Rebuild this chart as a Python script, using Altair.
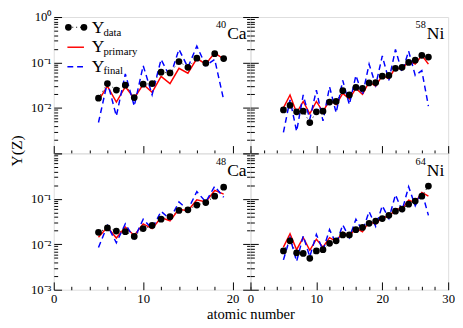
import altair as alt
import pandas as pd

# ---------------- data ----------------
Z_CA = list(range(5, 20))
Z_NI = list(range(5, 28))

CA40_DATA = [0.0164, 0.0344, 0.0247, 0.0316, 0.0169, 0.0332, 0.0344, 0.0611, 0.0590, 0.105,
             0.0782, 0.124, 0.0968, 0.156, 0.122]
CA40_PRIMARY = [0.0144, 0.0301, 0.0135, 0.0291, 0.0164, 0.0332, 0.0220, 0.0493, 0.0344, 0.0743,
                0.0581, 0.122, 0.0920, 0.164, 0.118]
CA40_FINAL = [0.00478, 0.0372, 0.00661, 0.0562, 0.0110, 0.0851, 0.0195, 0.117, 0.0479, 0.195,
              0.0782, 0.229, 0.0851, 0.117, 0.0151]

NI58_DATA = [0.00906, 0.0114, 0.00820, 0.00849, 0.00478, 0.00820, 0.00849, 0.0135, 0.0139, 0.0239,
             0.0193, 0.0282, 0.0269, 0.0355, 0.0361, 0.0501, 0.0518, 0.0743, 0.0782, 0.100,
             0.112, 0.144, 0.132]
NI58_PRIMARY = [0.0100, 0.0193, 0.00782, 0.0139, 0.00743, 0.0139, 0.00820, 0.0151, 0.0118, 0.0209,
                0.0158, 0.0269, 0.0200, 0.0372, 0.0301, 0.0518, 0.0440, 0.0782, 0.0697, 0.109,
                0.0920, 0.144, 0.0920]
NI58_FINAL = [0.00291, 0.0151, 0.00306, 0.0193, 0.00562, 0.0247, 0.00518, 0.0291, 0.00782, 0.0405,
              0.0118, 0.0518, 0.0193, 0.0920, 0.0316, 0.139, 0.0405, 0.193, 0.0611, 0.178,
              0.0518, 0.0662, 0.0109]

CA48_DATA = [0.0183, 0.0229, 0.0195, 0.0189, 0.0149, 0.0221, 0.0259, 0.0356, 0.0405, 0.0556,
             0.0574, 0.0728, 0.0826, 0.114, 0.180]
CA48_PRIMARY = [0.0142, 0.0239, 0.0137, 0.0239, 0.0156, 0.0281, 0.0221, 0.0385, 0.0329, 0.0592,
                0.0547, 0.0953, 0.0853, 0.153, 0.127]
CA48_FINAL = [0.00851, 0.0259, 0.0108, 0.0281, 0.0133, 0.0356, 0.0221, 0.0530, 0.0356, 0.0853,
              0.0574, 0.144, 0.0853, 0.189, 0.108]

NI64_DATA = [0.00713, 0.0119, 0.00647, 0.00627, 0.00492, 0.00713, 0.00760, 0.0105, 0.0119, 0.0160,
             0.0160, 0.0210, 0.0235, 0.0290, 0.0324, 0.0368, 0.0433, 0.0533, 0.0597, 0.0760,
             0.0893, 0.114, 0.191]
NI64_PRIMARY = [0.00865, 0.0170, 0.00760, 0.0140, 0.00736, 0.0129, 0.00865, 0.0140, 0.0116, 0.0185,
                0.0152, 0.0228, 0.0188, 0.0314, 0.0276, 0.0399, 0.0399, 0.0597, 0.0597, 0.0938,
                0.0824, 0.138, 0.114]
NI64_FINAL = [0.00454, 0.0140, 0.00419, 0.0152, 0.00533, 0.0165, 0.00736, 0.0210, 0.0102, 0.0267,
              0.0140, 0.0356, 0.0194, 0.0525, 0.0247, 0.0701, 0.0368, 0.123, 0.0551, 0.185,
              0.0701, 0.145, 0.0433]

LEGEND_SUBS = ["data", "primary", "final"]
Y_DOMAIN = [0.001, 1.0]
Y_TICKS = [m * 10.0 ** e for e in (-3, -2, -1) for m in range(1, 10)] + [1.0]
TOP_LABEL_TICKS = [1.0, 0.1, 0.01]
BOTTOM_LABEL_TICKS = [0.1, 0.01, 0.001]

FONT = "Liberation Serif"

Y_MAJOR = "abs(log(datum.value)/LN10 - round(log(datum.value)/LN10)) < 0.01"
Y_TICKSIZE = {"condition": {"test": Y_MAJOR, "value": 8}, "value": 4}
X_TICKSIZE = {"condition": {"test": "datum.value % 10 == 0", "value": 8}, "value": 3.5}
Y_LABEL_EXPR = ("datum.value >= 0.5 ? '10⁰' : datum.value >= 0.05 ? '10⁻¹' : "
                "datum.value >= 0.005 ? '10⁻²' : '10⁻³'")


def one_row():
    return pd.DataFrame({"k": [0]})


def panel(z, yd, yp, yf, width, height, xmax, x_major, sup, el, el_w,
          top_row, left_col, legend=False):
    df = pd.DataFrame({"Z": z, "data": yd, "primary": yp, "final": yf})
    xscale = alt.Scale(domain=[0, xmax], nice=False, zero=False)
    yscale = alt.Scale(type="log", domain=Y_DOMAIN, nice=False)

    # main (labelled) axes
    if top_row:
        x_main = None
    else:
        x_main = alt.Axis(values=x_major, ticks=False, domain=False, grid=False,
                          labelFont=FONT, labelFontSize=13, labelColor="black",
                          labelPadding=3, labelFlush=False, labelOverlap=False,
                          title="atomic number" if left_col else None,
                          titleFont=FONT, titleFontSize=15, titleFontWeight="normal",
                          titleColor="black", titleX=width, titleY=30,
                          titleBaseline="alphabetic", titleAlign="center")
    if left_col:
        y_main = alt.Axis(values=TOP_LABEL_TICKS if top_row else BOTTOM_LABEL_TICKS,
                          ticks=False, domain=False, grid=False,
                          labelExpr=Y_LABEL_EXPR, labelFont=FONT, labelFontSize=13,
                          labelColor="black", labelPadding=3, labelFlush=False,
                          labelOverlap=False,
                          title="Y(Z)" if top_row else None,
                          titleFont=FONT, titleFontSize=16, titleFontWeight="normal",
                          titleColor="black", titleX=-30, titleY=height - 3,
                          titleAngle=270, titleBaseline="bottom", titleAlign="center")
    else:
        y_main = None

    # inward tick axes
    x_in = alt.Axis(orient="top", offset=-height, values=list(range(0, xmax + 1, 2)),
                    labels=False, domain=False, grid=False, title=None,
                    tickColor="black", tickWidth=1, tickSize=X_TICKSIZE)
    y_in_left = alt.Axis(orient="right", offset=-width, values=Y_TICKS,
                         labels=False, domain=False, grid=False, title=None,
                         tickColor="black", tickWidth=1, tickSize=Y_TICKSIZE)
    y_in_right = None
    if left_col:
        y_in_right = alt.Axis(orient="left", offset=-width, values=Y_TICKS,
                              labels=False, domain=False, grid=False, title=None,
                              tickColor="black", tickWidth=1, tickSize=Y_TICKSIZE)

    base = alt.Chart(df)
    dotted = base.mark_line(color="black", strokeDash=[1, 3], strokeWidth=1).encode(
        x=alt.X("Z:Q", scale=xscale, axis=x_main),
        y=alt.Y("data:Q", scale=yscale, axis=y_main))
    red = base.mark_line(color="#ff0000", strokeWidth=1.5).encode(
        x=alt.X("Z:Q", scale=xscale, axis=x_in),
        y=alt.Y("primary:Q", scale=yscale, axis=y_in_left))
    blue = base.mark_line(color="#0000ff", strokeDash=[6, 4], strokeWidth=1.5).encode(
        x=alt.X("Z:Q", scale=xscale, axis=None),
        y=alt.Y("final:Q", scale=yscale, axis=y_in_right))
    dots = base.mark_circle(size=48, color="black", opacity=1).encode(
        x=alt.X("Z:Q", scale=xscale, axis=None),
        y=alt.Y("data:Q", scale=yscale, axis=None))

    layers = [dotted, red, blue, dots]

    # panel label (isotope)
    lab = pd.DataFrame({"sup": [sup], "el": [el]})
    layers.append(alt.Chart(lab).mark_text(align="right", baseline="alphabetic", font=FONT,
                                           fontSize=18, color="black").encode(
        x=alt.value(width - 4), y=alt.value(23), text="el:N"))
    layers.append(alt.Chart(lab).mark_text(align="right", baseline="alphabetic", font=FONT,
                                           fontSize=10.5, color="black").encode(
        x=alt.value(width - 5 - el_w), y=alt.value(11.5), text="sup:N"))

    if legend:
        layers.append(alt.Chart(one_row()).mark_rule(color="black", strokeDash=[1, 3],
                                                     strokeWidth=1).encode(
            x=alt.value(15), x2=alt.value(31), y=alt.value(10.5)))
        for xv in (15, 31):
            layers.append(alt.Chart(one_row()).mark_circle(size=48, color="black",
                                                           opacity=1).encode(
                x=alt.value(xv), y=alt.value(10.5)))
        layers.append(alt.Chart(one_row()).mark_rule(color="#ff0000", strokeWidth=1.5).encode(
            x=alt.value(14), x2=alt.value(31), y=alt.value(31)))
        layers.append(alt.Chart(one_row()).mark_rule(color="#0000ff", strokeWidth=1.5,
                                                     strokeDash=[6, 4]).encode(
            x=alt.value(14), x2=alt.value(33), y=alt.value(51)))
        for i, sub in enumerate(LEGEND_SUBS):
            layers.append(alt.Chart(one_row()).mark_text(
                text="Y", align="left", baseline="alphabetic", font=FONT, fontSize=18,
                color="black").encode(x=alt.value(39), y=alt.value(16 + 20 * i)))
            layers.append(alt.Chart(one_row()).mark_text(
                text=sub, align="left", baseline="alphabetic", font=FONT, fontSize=11,
                color="black").encode(x=alt.value(51), y=alt.value(19 + 20 * i)))

    return alt.layer(*layers).properties(width=width, height=height).resolve_axis(
        x="independent", y="independent")


WL, WR = 202, 203
HT, HB = 140, 140

tl = panel(Z_CA, CA40_DATA, CA40_PRIMARY, CA40_FINAL, WL, HT, 22, [0, 10, 20],
           "40", "Ca", 20, True, True, legend=True)
tr = panel(Z_NI, NI58_DATA, NI58_PRIMARY, NI58_FINAL, WR, HT, 30, [0, 10, 20, 30],
           "58", "Ni", 18, True, False)
bl = panel(Z_CA, CA48_DATA, CA48_PRIMARY, CA48_FINAL, WL, HB, 22, [0, 10, 20],
           "48", "Ca", 20, False, True)
br = panel(Z_NI, NI64_DATA, NI64_PRIMARY, NI64_FINAL, WR, HB, 30, [0, 10, 20, 30],
           "64", "Ni", 18, False, False)

chart = alt.concat(tl, tr, bl, br, columns=2, spacing=0, bounds="flush").properties(
    padding={"left": 0, "top": -2, "right": 0, "bottom": 0},
).configure_view(stroke="black", strokeWidth=1).configure(background="white")

chart.save("out.html", embed_options={"renderer": "svg", "actions": False})
